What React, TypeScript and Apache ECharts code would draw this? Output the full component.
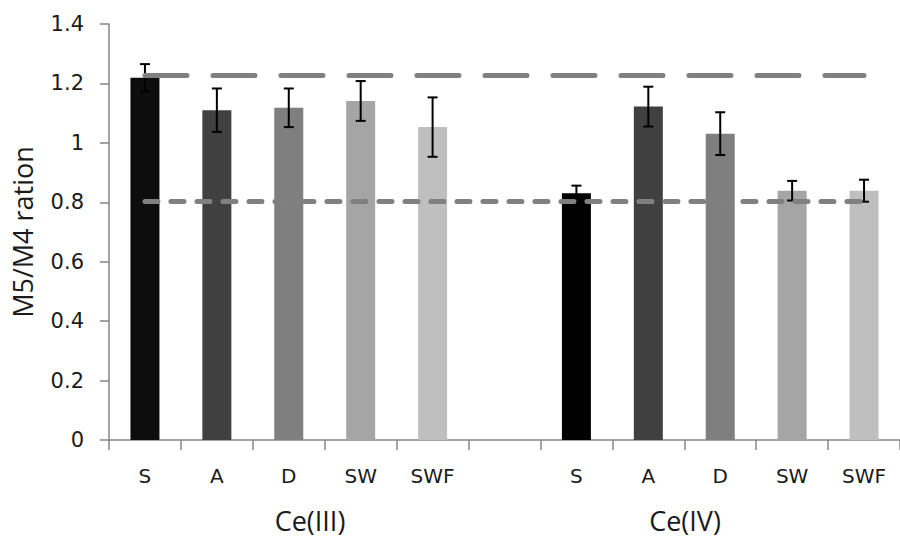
import React, { useEffect, useRef } from "react";
import * as echarts from "echarts";

const samples = ["S", "A", "D", "SW", "SWF"];
const groups = ["Ce(III)", "Ce(IV)"];
const ceIII = [1.219, 1.11, 1.118, 1.141, 1.053];
const ceIV = [0.83, 1.122, 1.031, 0.839, 0.839];
const errIII = [0.046, 0.073, 0.065, 0.067, 0.1];
const errIV = [0.026, 0.067, 0.072, 0.033, 0.037];
const colorsIII = ["#0d0d0d", "#404040", "#7f7f7f", "#a5a5a5", "#bfbfbf"];
const colorsIV = ["#000000", "#404040", "#7f7f7f", "#a5a5a5", "#bfbfbf"];
const refLevels = [1.227, 0.803];
const yTicks = { min: 0, max: 1.4, interval: 0.2 };

const FONT = "'Open Sans', sans-serif";
const TICKFONT = "'DejaVu Sans', sans-serif";
const TEXT = "#1a1a1a";

export default function App() {
  const ref = useRef<HTMLDivElement>(null);
  useEffect(() => {
    document.body.style.margin = "0";
    if (!ref.current) return;
    const chart = echarts.init(ref.current, null, { renderer: "svg" });

    const categories = [...samples, "", ...samples];
    const barData: any[] = [];
    const errData: any[] = [];
    samples.forEach((_, i) => {
      barData.push({ value: ceIII[i], itemStyle: { color: colorsIII[i] } });
      errData.push([i, ceIII[i] - errIII[i], ceIII[i] + errIII[i]]);
    });
    barData.push("-");
    samples.forEach((_, i) => {
      barData.push({ value: ceIV[i], itemStyle: { color: colorsIV[i] } });
      errData.push([i + 6, ceIV[i] - errIV[i], ceIV[i] + errIV[i]]);
    });
    const last = categories.length - 1;

    const axisColor = "#868686";

    chart.setOption({
      animation: false,
      backgroundColor: "#ffffff",
      grid: { left: 109, right: 0, top: 24, bottom: 97, containLabel: false },
      xAxis: {
        type: "category",
        data: categories,
        axisLine: { lineStyle: { color: axisColor, width: 1.5 } },
        axisTick: { show: true, length: 10, lineStyle: { color: axisColor, width: 1.5 } },
        axisLabel: { color: TEXT, fontSize: 20, fontFamily: TICKFONT, margin: 26, interval: 0 },
        splitLine: { show: false },
      },
      yAxis: {
        type: "value",
        min: yTicks.min,
        max: yTicks.max,
        interval: yTicks.interval,
        name: "M5/M4 ration",
        nameLocation: "middle",
        nameGap: 73,
        nameRotate: 90,
        nameTextStyle: { color: TEXT, fontSize: 27, fontFamily: FONT },
        axisLine: { show: true, lineStyle: { color: axisColor, width: 1.5 } },
        axisTick: { show: true, length: 9, lineStyle: { color: axisColor, width: 1.5 } },
        axisLabel: { color: TEXT, fontSize: 21, fontFamily: TICKFONT, margin: 25 },
        splitLine: { show: false },
      },
      graphic: [
        {
          type: "text",
          x: 310,
          y: 520,
          style: {
            text: groups[0],
            fontSize: 27,
            fontFamily: FONT,
            fill: TEXT,
            align: "center",
            verticalAlign: "middle",
          },
        },
        {
          type: "text",
          x: 685,
          y: 520,
          style: {
            text: groups[1],
            fontSize: 27,
            fontFamily: FONT,
            fill: TEXT,
            align: "center",
            verticalAlign: "middle",
          },
        },
      ],
      series: [
        {
          type: "bar",
          data: barData,
          barWidth: 29,
          z: 2,
        },
        {
          type: "custom",
          z: 3,
          data: errData,
          encode: { x: 0, y: [1, 2] },
          renderItem: (params: any, api: any) => {
            const x = api.value(0);
            const lo = api.coord([x, api.value(1)]);
            const hi = api.coord([x, api.value(2)]);
            const half = 5;
            const style = { stroke: "#000000", lineWidth: 2, fill: "none" };
            return {
              type: "group",
              children: [
                { type: "line", shape: { x1: hi[0], y1: hi[1], x2: lo[0], y2: lo[1] }, style },
                { type: "line", shape: { x1: hi[0] - half, y1: hi[1], x2: hi[0] + half, y2: hi[1] }, style },
                { type: "line", shape: { x1: lo[0] - half, y1: lo[1], x2: lo[0] + half, y2: lo[1] }, style },
              ],
            };
          },
        },
        {
          type: "line",
          z: 5,
          symbol: "none",
          data: [
            [0, refLevels[0]],
            [last, refLevels[0]],
          ],
          lineStyle: { color: "#808080", width: 5, type: [42, 26], cap: "round" },
        },
        {
          type: "line",
          z: 5,
          symbol: "none",
          data: [
            [0, refLevels[1]],
            [last, refLevels[1]],
          ],
          lineStyle: { color: "#808080", width: 5, type: [13, 13], cap: "round" },
        },
      ],
    });
    return () => chart.dispose();
  }, []);
  return (
    <div
      ref={ref}
      style={{ position: "absolute", left: 0, top: 0, width: 900, height: 537, background: "#fff" }}
    />
  );
}
